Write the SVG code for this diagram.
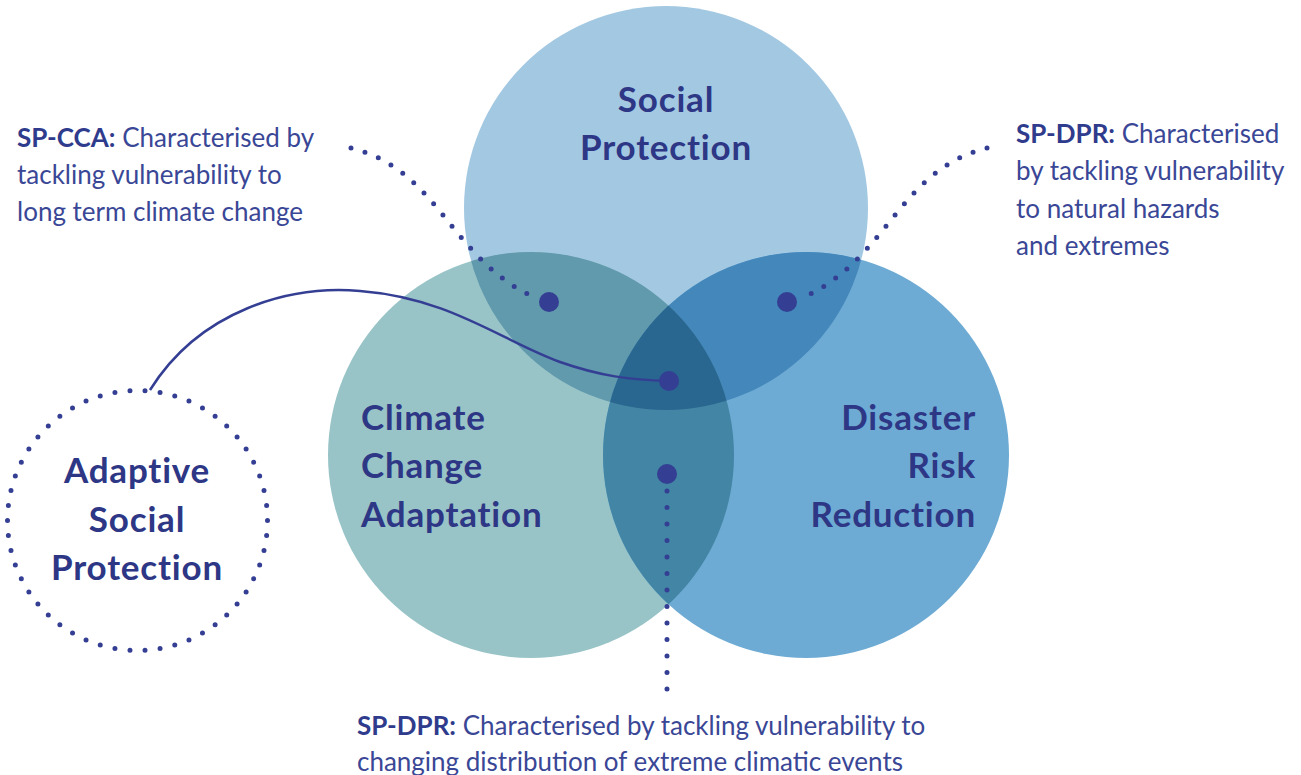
<svg xmlns="http://www.w3.org/2000/svg" width="1301" height="775" viewBox="0 0 1301 775">
<style>
.head{font-family:Lato,"Liberation Sans",sans-serif;font-weight:700;font-size:35px;letter-spacing:0.8px;fill:#2d3785}
.body{font-family:Lato,"Liberation Sans",sans-serif;font-size:26px;letter-spacing:0px;fill:#3a4796}
.bold{font-weight:700;fill:#2f3b8c}
.dots{fill:none;stroke:#343f94;stroke-width:5;stroke-linecap:round}
.big{fill:#343f94}
</style>
<defs>
<clipPath id="cSP"><circle cx="666" cy="208" r="202"/></clipPath>
<clipPath id="cCCA"><circle cx="531" cy="455" r="203"/></clipPath>
</defs>
<rect width="1301" height="775" fill="#ffffff"/>
<g id="social-protection">
<circle cx="666" cy="208" r="202" fill="#a3c8e2"/>
</g>
<g id="climate-change-adaptation">
<circle cx="531" cy="455" r="203" fill="#99c4c7"/>
</g>
<g id="disaster-risk-reduction">
<circle cx="806" cy="455" r="203" fill="#6eabd4"/>
</g>
<g id="overlaps">
<circle cx="531" cy="455" r="203" fill="#6199ad" clip-path="url(#cSP)"/>
<circle cx="806" cy="455" r="203" fill="#4487bb" clip-path="url(#cSP)"/>
<circle cx="806" cy="455" r="203" fill="#4385a4" clip-path="url(#cCCA)"/>
<g clip-path="url(#cSP)"><circle cx="806" cy="455" r="203" fill="#296690" clip-path="url(#cCCA)"/></g>
</g>
<g id="labels-circles">
<text class="head" x="666" y="112" text-anchor="middle">Social</text>
<text class="head" x="666" y="160" text-anchor="middle">Protection</text>
<text class="head" x="361" y="430">Climate</text>
<text class="head" x="361" y="478">Change</text>
<text class="head" x="361" y="527">Adaptation</text>
<text class="head" x="976" y="430" text-anchor="end">Disaster</text>
<text class="head" x="976" y="478" text-anchor="end">Risk</text>
<text class="head" x="976" y="527" text-anchor="end">Reduction</text>
</g>
<g id="adaptive-social-protection">
<circle cx="137.5" cy="520.5" r="130" fill="none" stroke="#343f94" stroke-width="5" stroke-linecap="round" stroke-dasharray="0 15.12"/>
<text class="head" x="137" y="483" text-anchor="middle">Adaptive</text>
<text class="head" x="137" y="532" text-anchor="middle">Social</text>
<text class="head" x="137" y="580" text-anchor="middle">Protection</text>
</g>
<g id="connectors">
<path class="dots" d="M351,148 C440,170 450,260 536,298" stroke-dasharray="0 14.5"/>
<path class="dots" d="M987,148 C898,170 888,260 802,298" stroke-dasharray="0 14.5"/>
<path class="dots" d="M667,491 L667,690" stroke-dasharray="0 16.5"/>
<path d="M150,390 C200,310 290,285 360,291 C450,298 500,340 560,362 C600,376 630,380 669,381" fill="none" stroke="#343f94" stroke-width="2.5"/>
<circle class="big" cx="549" cy="302" r="10"/>
<circle class="big" cx="787" cy="302" r="10"/>
<circle class="big" cx="669" cy="381" r="10"/>
<circle class="big" cx="667" cy="474" r="10"/>
</g>
<g id="text-sp-cca">
<text class="body" x="17" y="147"><tspan class="bold">SP-CCA:</tspan> Characterised by</text>
<text class="body" x="17" y="184">tackling vulnerability to</text>
<text class="body" x="17" y="221">long term climate change</text>
</g>
<g id="text-sp-dpr">
<text class="body" x="1016" y="143"><tspan class="bold">SP-DPR:</tspan> Characterised</text>
<text class="body" x="1016" y="180">by tackling vulnerability</text>
<text class="body" x="1016" y="218">to natural hazards</text>
<text class="body" x="1016" y="255">and extremes</text>
</g>
<g id="text-sp-dpr-bottom">
<text class="body" x="357" y="735"><tspan class="bold">SP-DPR:</tspan> Characterised by tackling vulnerability to</text>
<text class="body" x="357" y="771">changing distribution of extreme climatic events</text>
</g>
</svg>
